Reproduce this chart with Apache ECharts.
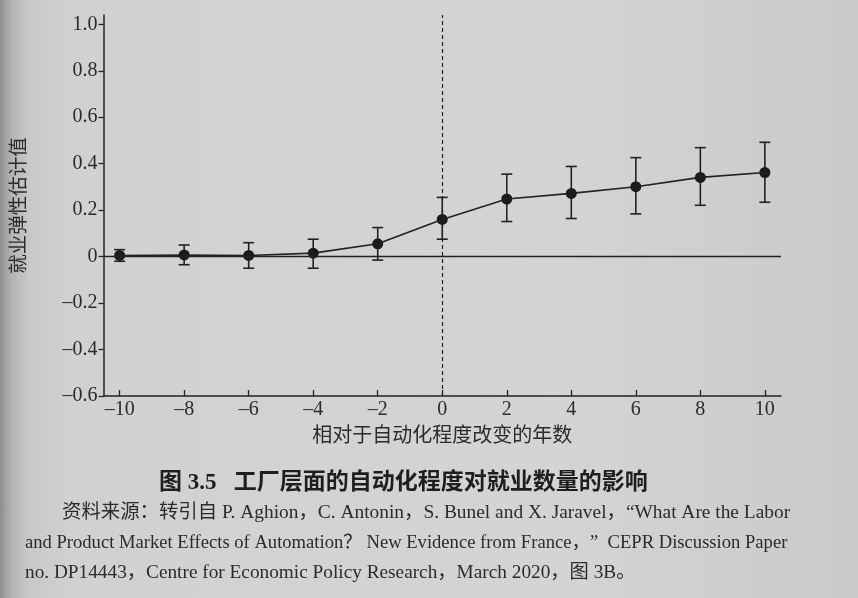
<!DOCTYPE html>
<html>
<head>
<meta charset="utf-8">
<script src="https://cdn.jsdelivr.net/npm/echarts@6/dist/echarts.min.js"></script>
<style>
html,body{margin:0;padding:0;}
body{background:linear-gradient(to right,#8e8e8c 0px,#b4b4b2 12px,#c8c8c6 28px,#d1d1cf 70px,#d4d4d2 560px,#cacac8 858px);}
#main{width:858px;height:598px;}
</style>
</head>
<body>
<div id="main"></div>
<script>
// 就业弹性估计值（点估计与置信区间）
var years = [-10, -8, -6, -4, -2, 0, 2, 4, 6, 8, 10];
var estimate = [0.005, 0.007, 0.005, 0.015, 0.055, 0.16, 0.248, 0.272, 0.301, 0.341, 0.362];
var ciLow = [-0.02, -0.035, -0.05, -0.05, -0.015, 0.075, 0.151, 0.164, 0.184, 0.221, 0.234];
var ciHigh = [0.03, 0.05, 0.06, 0.075, 0.125, 0.255, 0.355, 0.388, 0.426, 0.469, 0.492];
var yTicks = [-0.6, -0.4, -0.2, 0, 0.2, 0.4, 0.6, 0.8, 1.0];
var xTicks = [-10, -8, -6, -4, -2, 0, 2, 4, 6, 8, 10];

var SERIF = "'Liberation Serif', 'Noto Sans CJK SC', serif";
var INK = '#222';
var TXT = '#2b2b2b';

function numLabel(v){
    if (v === 0) return '0';
    var s = Math.abs(v) % 1 === 0 && Math.abs(v) >= 2 ? String(Math.abs(v)) : Math.abs(v).toFixed(1);
    return (v < 0 ? '\u2013' : '') + s;
}

var myChart = echarts.init(document.getElementById('main'), null, {renderer:'canvas'});
var option = {
    backgroundColor: 'transparent',
    animation: false,
    grid: {left: 103, right: 77, top: 15, bottom: 202},
    xAxis: {
        type: 'value',
        min: -10.5,
        max: 10.5,
        name: '相对于自动化程度改变的年数',
        nameLocation: 'middle',
        nameGap: 24,
        nameTextStyle: {fontFamily: "'Noto Sans CJK SC'", fontSize: 20, color: TXT},
        axisLine: {onZero: false, lineStyle: {color: INK, width: 1.5}},
        axisTick: {inside: true, length: 6, customValues: xTicks, lineStyle: {color: INK, width: 1.3}},
        axisLabel: {customValues: xTicks, margin: 4, fontFamily: SERIF, fontSize: 20, color: TXT,
            formatter: function(v){ return numLabel(v); }},
        splitLine: {show: false}
    },
    yAxis: {
        type: 'value',
        min: -0.6,
        max: 1.04,
        name: '就业弹性估计值',
        nameLocation: 'middle',
        nameRotate: 90,
        nameGap: 76,
        nameTextStyle: {fontFamily: "'Noto Sans CJK SC'", fontSize: 19.5, color: TXT},
        axisLine: {show: true, onZero: false, lineStyle: {color: INK, width: 1.5}},
        axisTick: {show: true, inside: false, length: 5, customValues: yTicks, lineStyle: {color: INK, width: 1.3}},
        axisLabel: {customValues: yTicks, margin: 6, fontFamily: SERIF, fontSize: 20, color: TXT,
            formatter: function(v){ return numLabel(v); }},
        splitLine: {show: false}
    },
    series: [
        {
            type: 'custom',
            z: 3,
            data: years.map(function(y, i){ return [y, ciLow[i], ciHigh[i]]; }),
            renderItem: function(params, api){
                var lo = api.coord([api.value(0), api.value(1)]);
                var hi = api.coord([api.value(0), api.value(2)]);
                var cap = 5.5;
                var st = {stroke: INK, lineWidth: 1.6};
                return {type: 'group', children: [
                    {type: 'line', shape: {x1: lo[0], y1: lo[1], x2: hi[0], y2: hi[1]}, style: st},
                    {type: 'line', shape: {x1: lo[0]-cap, y1: lo[1], x2: lo[0]+cap, y2: lo[1]}, style: st},
                    {type: 'line', shape: {x1: hi[0]-cap, y1: hi[1], x2: hi[0]+cap, y2: hi[1]}, style: st}
                ]};
            }
        },
        {
            type: 'line',
            z: 4,
            data: years.map(function(y, i){ return [y, estimate[i]]; }),
            symbol: 'circle',
            symbolSize: 11,
            itemStyle: {color: '#1c1c1c'},
            lineStyle: {color: INK, width: 1.6},
            markLine: {
                silent: true,
                symbol: 'none',
                label: {show: false},
                data: [
                    {xAxis: 0, lineStyle: {color: INK, width: 1.2, type: [4, 3]}},
                    {yAxis: 0, lineStyle: {color: INK, width: 1.4, type: 'solid'}}
                ]
            }
        }
    ],
    graphic: [
        {type: 'text', x: 159, y: 483, style: {text: '图 3.5   工厂层面的自动化程度对就业数量的影响',
            font: "bold 23px 'Liberation Serif', 'Noto Sans CJK SC'", fill: '#1e1e1e', verticalAlign: 'middle'}},
        {type: 'text', x: 62, y: 513, style: {text: '资料来源：转引自 P. Aghion，C. Antonin，S. Bunel and X. Jaravel，“What Are the Labor',
            font: "19.4px " + SERIF, fill: TXT, verticalAlign: 'middle'}},
        {type: 'text', x: 25, y: 543, style: {text: 'and Product Market Effects of Automation？ New Evidence from France，”  CEPR Discussion Paper',
            font: "18.6px " + SERIF, fill: TXT, verticalAlign: 'middle'}},
        {type: 'text', x: 25, y: 573, style: {text: 'no. DP14443，Centre for Economic Policy Research，March 2020，图 3B。',
            font: "19.3px " + SERIF, fill: TXT, verticalAlign: 'middle'}}
    ]
};
myChart.setOption(option);
</script>
</body>
</html>
